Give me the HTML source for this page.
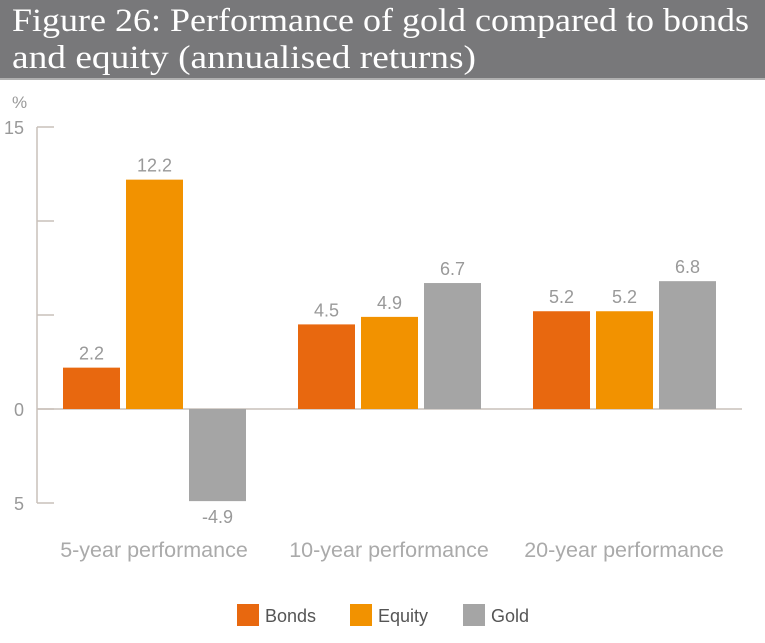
<!DOCTYPE html>
<html><head><meta charset="utf-8"><style>
html,body{margin:0;padding:0;background:#fff;}
svg{display:block;font-family:"Liberation Sans",sans-serif;}
</style></head><body>
<svg id="c" width="765" height="643" xmlns="http://www.w3.org/2000/svg">
<rect x="0" y="0" width="765" height="78" fill="#78787a"/>
<rect x="0" y="78" width="765" height="2" fill="#b0b0b0"/>
<text x="12" y="31" font-family="Liberation Serif,serif" font-size="33" fill="#fff" textLength="737" lengthAdjust="spacingAndGlyphs">Figure 26: Performance of gold compared to bonds</text>
<text x="12" y="68" font-family="Liberation Serif,serif" font-size="33" fill="#fff" textLength="464" lengthAdjust="spacingAndGlyphs">and equity (annualised returns)</text>
<text x="12" y="108" font-size="17" fill="#999">%</text>
<g id="axes"></g>
<g id="bars"></g>
<g id="legend"></g>
</svg>
<script>
const categories = ["5-year performance","10-year performance","20-year performance"];
const seriesNames = ["Bonds","Equity","Gold"];
const bonds = [2.2, 4.5, 5.2];
const equity = [12.2, 4.9, 5.2];
const gold = [-4.9, 6.7, 6.8];
const yTicks = [15, 10, 5, 0, -5];
const yTickLabels = ["15", "", "", "0", "5"];
const colors = ["#e8680f","#f29200","#a5a5a5"];
const NS = "http://www.w3.org/2000/svg";
const y = v => 409 - v * 18.8;
const groupX = i => 63 + i * 235;
const barX = (i, s) => groupX(i) + s * 63;
const BW = 57;
function mk(tag, attrs, parent, txt){const e=document.createElementNS(NS,tag);for(const k in attrs)e.setAttribute(k,attrs[k]);if(txt!==undefined)e.textContent=txt;parent.appendChild(e);return e;}
const ax = document.getElementById('axes');
let l = mk('line',{x1:37,y1:y(15),x2:37,y2:y(-5),stroke:'#c9c0ba','stroke-width':1.5},ax);


yTicks.forEach((t,i)=>{
  const tk = mk('line',{x1:37,y1:y(t),x2:54,y2:y(t),stroke:'#c9c0ba','stroke-width':1.5},ax);
  
  
  if(yTickLabels[i]){
    const tl = mk('text',{x:24,y:y(t)+7,'font-size':18,fill:'#999','text-anchor':'end'},ax,yTickLabels[i]);
    
    
  }
});
const zl = mk('line',{x1:37,y1:y(0),x2:742,y2:y(0),stroke:'#c9c0ba','stroke-width':1.5},ax);


const bg = document.getElementById('bars');
const all = [bonds, equity, gold];
categories.forEach((c,i)=>{
  const cl = mk('text',{x:groupX(i)+91,y:557,'font-size':21.5,fill:'#aaa','text-anchor':'middle'},bg,c);
  
  
  all.forEach((arr,s)=>{
    const v = arr[i];
    const top = Math.min(y(v), y(0)), h = Math.abs(y(v)-y(0));
    const r = mk('rect',{x:barX(i,s),y:top,width:BW,height:h,fill:colors[s]},bg);
    
    
    const ly = v >= 0 ? y(v) - 8 : y(v) + 22;
    const vl = mk('text',{x:barX(i,s)+BW/2,y:ly,'font-size':18,fill:'#999','text-anchor':'middle'},bg,v.toFixed(1));
    
    
  });
});
const lg = document.getElementById('legend');
const legX = [237, 350, 463];
seriesNames.forEach((n,s)=>{
  const sw = mk('rect',{x:legX[s],y:604,width:22,height:22,fill:colors[s]},lg);
  
  
  const t = mk('text',{x:legX[s]+28,y:622,'font-size':18,fill:'#555'},lg,n);
  
  
});
</script>
</body></html>
